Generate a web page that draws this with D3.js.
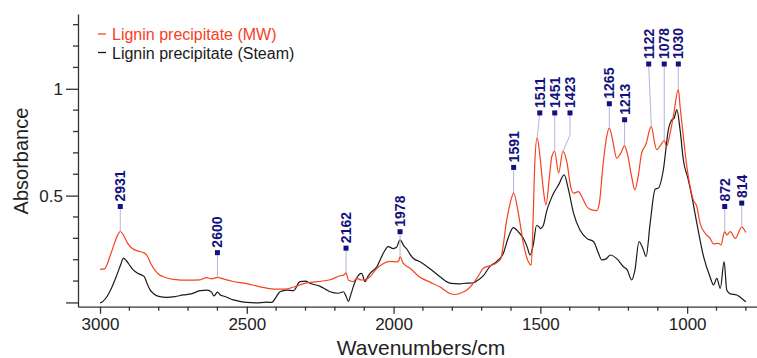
<!DOCTYPE html>
<html>
<head>
<meta charset="utf-8">
<script src="https://cdn.jsdelivr.net/npm/d3@7"></script>
<style>
  body { margin: 0; background: #fff; }
  svg { display: block; font-family: "Liberation Sans", Arial, sans-serif; }
</style>
</head>
<body>
<div class="canvas"></div>
<script>
// lignin precipitate (MW) - wavenumbers and absorbance
const mwWave = [3000, 2985, 2965, 2950, 2940, 2931, 2918, 2905, 2890, 2870, 2850, 2838, 2828, 2815, 2800, 2780, 2750,
  2700, 2660, 2637, 2620, 2600, 2580, 2550, 2500, 2450, 2400, 2370, 2340, 2300, 2260, 2216, 2182, 2170, 2162, 2154,
  2137, 2126, 2110, 2095, 2080, 2060, 2040, 2012, 1990, 1982, 1978, 1968, 1944, 1910, 1876, 1842, 1808, 1790, 1773,
  1750, 1728, 1711, 1694, 1671, 1650, 1635, 1614, 1600, 1591, 1575, 1558, 1541, 1531, 1524, 1519, 1511, 1501, 1490,
  1481, 1469, 1461, 1451, 1438, 1423, 1409, 1397, 1387, 1370, 1359, 1342, 1325, 1308, 1299, 1287, 1274, 1265, 1254,
  1240, 1226, 1213, 1204, 1189, 1178, 1167, 1155, 1141, 1122, 1112, 1104, 1093, 1078, 1070, 1059, 1047, 1030, 1024,
  1013, 1001, 990, 979, 967, 956, 939, 922, 910, 893, 885, 872, 865, 853, 836, 814, 800];
const mwAbs = [0.155, 0.157, 0.22, 0.28, 0.315, 0.332, 0.31, 0.275, 0.252, 0.24, 0.232, 0.215, 0.185, 0.155, 0.132, 0.118, 0.108,
  0.104, 0.106, 0.116, 0.11, 0.117, 0.11, 0.099, 0.088, 0.072, 0.062, 0.062, 0.072, 0.09, 0.097, 0.106, 0.125, 0.128, 0.138, 0.105,
  0.097, 0.113, 0.105, 0.108, 0.12, 0.155, 0.178, 0.192, 0.19, 0.195, 0.215, 0.185, 0.16, 0.118, 0.095, 0.072, 0.042, 0.037, 0.043,
  0.058, 0.09, 0.125, 0.16, 0.172, 0.185, 0.205, 0.39, 0.48, 0.512, 0.418, 0.277, 0.19, 0.175, 0.42, 0.65, 0.77, 0.68, 0.53,
  0.457, 0.589, 0.683, 0.707, 0.605, 0.707, 0.652, 0.543, 0.511, 0.519, 0.496, 0.449, 0.433, 0.43, 0.465, 0.636, 0.777, 0.816, 0.761,
  0.675, 0.699, 0.733, 0.699, 0.589, 0.527, 0.589, 0.699, 0.738, 0.824, 0.756, 0.715, 0.73, 0.758, 0.73, 0.785, 0.871, 0.996, 0.917,
  0.777, 0.636, 0.543, 0.48, 0.449, 0.371, 0.324, 0.3, 0.274, 0.277, 0.269, 0.331, 0.316, 0.331, 0.3, 0.352, 0.327];

// lignin precipitate (Steam)
const steamWave = [3000, 2990, 2975, 2960, 2945, 2930, 2920, 2910, 2897, 2887, 2870, 2855, 2848, 2840, 2830, 2815, 2800,
  2773, 2745, 2717, 2690, 2659, 2635, 2620, 2612, 2600, 2590, 2575, 2546, 2520, 2499, 2470, 2432, 2415, 2400, 2387,
  2364, 2341, 2319, 2300, 2285, 2250, 2230, 2216, 2188, 2171, 2162, 2154, 2145, 2137, 2126, 2109, 2097, 2088, 2080,
  2057, 2035, 2018, 2001, 1990, 1978, 1965, 1955, 1944, 1933, 1910, 1876, 1842, 1808, 1790, 1773, 1750, 1739, 1728,
  1717, 1694, 1671, 1649, 1626, 1610, 1592, 1575, 1558, 1545, 1535, 1524, 1513, 1505, 1500, 1490, 1478, 1465, 1455,
  1438, 1419, 1404, 1387, 1365, 1342, 1319, 1302, 1291, 1275, 1262, 1240, 1217, 1204, 1189, 1178, 1164, 1149, 1140,
  1126, 1109, 1098, 1081, 1064, 1052, 1044, 1035, 1024, 1013, 996, 984, 967, 944, 922, 910, 899, 887, 874, 865, 853,
  831, 815, 800];
const steamAbs = [-0.003, 0.005, 0.03, 0.07, 0.12, 0.175, 0.207, 0.195, 0.17, 0.152, 0.135, 0.126, 0.118, 0.09, 0.06, 0.038, 0.028,
  0.024, 0.027, 0.035, 0.04, 0.055, 0.058, 0.048, 0.03, 0.048, 0.035, 0.028, 0.012, 0.004, 0.0, -0.002, 0.001, 0.0, 0.025, 0.05,
  0.058, 0.055, 0.097, 0.1, 0.09, 0.075, 0.06, 0.05, 0.043, 0.05, 0.03, 0.005, 0.04, 0.074, 0.113, 0.136, 0.097, 0.12, 0.136,
  0.167, 0.23, 0.261, 0.252, 0.258, 0.293, 0.265, 0.25, 0.225, 0.207, 0.19, 0.158, 0.12, 0.09, 0.088, 0.087, 0.09, 0.09, 0.092,
  0.1, 0.125, 0.17, 0.191, 0.23, 0.3, 0.35, 0.33, 0.3, 0.26, 0.222, 0.27, 0.36, 0.355, 0.345, 0.36, 0.43, 0.48, 0.511,
  0.55, 0.597, 0.527, 0.418, 0.339, 0.3, 0.285, 0.23, 0.199, 0.205, 0.222, 0.205, 0.167, 0.152, 0.105, 0.15, 0.285, 0.246, 0.214,
  0.37, 0.53, 0.535, 0.621, 0.808, 0.855, 0.863, 0.902, 0.808, 0.668, 0.574, 0.496, 0.371, 0.214, 0.12, 0.082, 0.113, 0.066, 0.191, 0.058, 0.04,
  0.035, 0.02, 0.003];

// peak labels (on the MW curve), marker level and marker wavenumber
const peakWaves   = [2931, 2600, 2162, 1978, 1591, 1511, 1451, 1423, 1265, 1213, 1122, 1078, 1030, 872, 814];
const markerWaves = [2931, 2600, 2162, 1978, 1591, 1502, 1451, 1399, 1265, 1213, 1131, 1078, 1030, 872, 814];
const markerLevel = [0.449, 0.233, 0.254, 0.331, 0.632, 0.887, 0.887, 0.887, 0.93, 0.855, 1.116, 1.116, 1.116, 0.449, 0.465];

const seriesNames = ['Lignin precipitate (MW)', 'Lignin precipitate (Steam)'];
const seriesColors = ['#f5421f', '#1a1a1a'];

const xMajor = [3000, 2500, 2000, 1500, 1000];
const yMajor = [0, 0.5, 1];
const yLabels = ['', '0.5', '1'];

const svg = d3.select('.canvas')
  .append('svg')
    .attr('width', 757)
    .attr('height', 358);

const x = d3.scaleLinear().domain([3075, 762]).range([78, 757]);
const y = d3.scaleLinear().domain([-0.02, 1.35]).range([306.7, 14]);

const mw = mwWave.map((w, i) => ({w, a: mwAbs[i]}));
const steam = steamWave.map((w, i) => ({w, a: steamAbs[i]}));

const line = d3.line()
  .x(d => x(d.w))
  .y(d => y(d.a))
  .curve(d3.curveMonotoneX);

// axes
const xMinor = d3.range(800, 3001, 100).filter(v => !xMajor.includes(v));
const yMinor = d3.range(1, 14).map(v => v / 10).filter(v => !yMajor.includes(v));

const xAxisGroup = svg.append('g').attr('transform', 'translate(0, 306.7)');
xAxisGroup.call(d3.axisBottom(x).tickValues(xMajor).tickFormat(d3.format('d'))
  .tickSize(7).tickSizeOuter(0).tickPadding(4));
xAxisGroup.selectAll('.minor').data(xMinor).enter().append('line')
  .attr('x1', d => x(d)).attr('x2', d => x(d)).attr('y1', 0).attr('y2', 4);

const yAxisGroup = svg.append('g').attr('transform', 'translate(78, 0)');
yAxisGroup.call(d3.axisLeft(y).tickValues(yMajor).tickFormat((d, i) => yLabels[i])
  .tickSize(12).tickSizeOuter(0).tickPadding(3));
yAxisGroup.selectAll('.minor').data(yMinor).enter().append('line')
  .attr('x1', 0).attr('x2', -5).attr('y1', d => y(d)).attr('y2', d => y(d));

[xAxisGroup, yAxisGroup].forEach(g => g.attr('font-family', null).attr('font-size', null));
svg.selectAll('.domain, .tick line, g line')
  .attr('stroke', '#333')
  .attr('stroke-width', 1.3);
svg.selectAll('.tick text')
  .attr('fill', '#222')
  .style('font-size', '17px');

svg.append('text')
  .attr('transform', 'translate(28, 161) rotate(-90)')
  .attr('text-anchor', 'middle')
  .style('font-size', '20px')
  .attr('fill', '#222')
  .text('Absorbance');

svg.append('text')
  .attr('x', 421).attr('y', 355)
  .attr('text-anchor', 'middle')
  .style('font-size', '21px')
  .attr('fill', '#222')
  .text('Wavenumbers/cm');

// curves
svg.append('path').datum(steam)
  .attr('fill', 'none').attr('stroke', seriesColors[1]).attr('stroke-width', 1.2)
  .attr('d', line);
svg.append('path').datum(mw)
  .attr('fill', 'none').attr('stroke', seriesColors[0]).attr('stroke-width', 1.2)
  .attr('d', line);

// peak labels
const labelColor = '#12127e';
peakWaves.forEach((pw, i) => {
  const idx = mwWave.indexOf(pw);
  const px = x(pw), py = y(mwAbs[idx]);
  const mx = x(markerWaves[i]), my = y(markerLevel[i]);
  let pts = [[mx, my], [px, py]];
  if (Math.abs(mx - px) > 4) pts = [[mx, my], [mx, my + 22], [px, py]];
  svg.append('path')
    .attr('d', d3.line()(pts))
    .attr('fill', 'none')
    .attr('stroke', '#b4b4dc')
    .attr('stroke-width', 1);
  svg.append('rect')
    .attr('x', mx - 2.5).attr('y', my - 2.5)
    .attr('width', 5).attr('height', 5)
    .attr('fill', labelColor);
  svg.append('text')
    .attr('transform', `translate(${mx + 5}, ${my - 5}) rotate(-90)`)
    .attr('text-anchor', 'start')
    .style('font-size', '14px')
    .style('font-weight', 'bold')
    .attr('fill', labelColor)
    .text(pw);
});

// legend
seriesNames.forEach((name, i) => {
  const ly = 34 + i * 18.5;
  svg.append('line')
    .attr('x1', 98).attr('x2', 106).attr('y1', ly).attr('y2', ly)
    .attr('stroke', seriesColors[i]).attr('stroke-width', 1.3);
  svg.append('text')
    .attr('x', 112).attr('y', ly + 6)
    .style('font-size', '16px')
    .attr('fill', seriesColors[i])
    .text(name);
});
</script>
</body>
</html>
